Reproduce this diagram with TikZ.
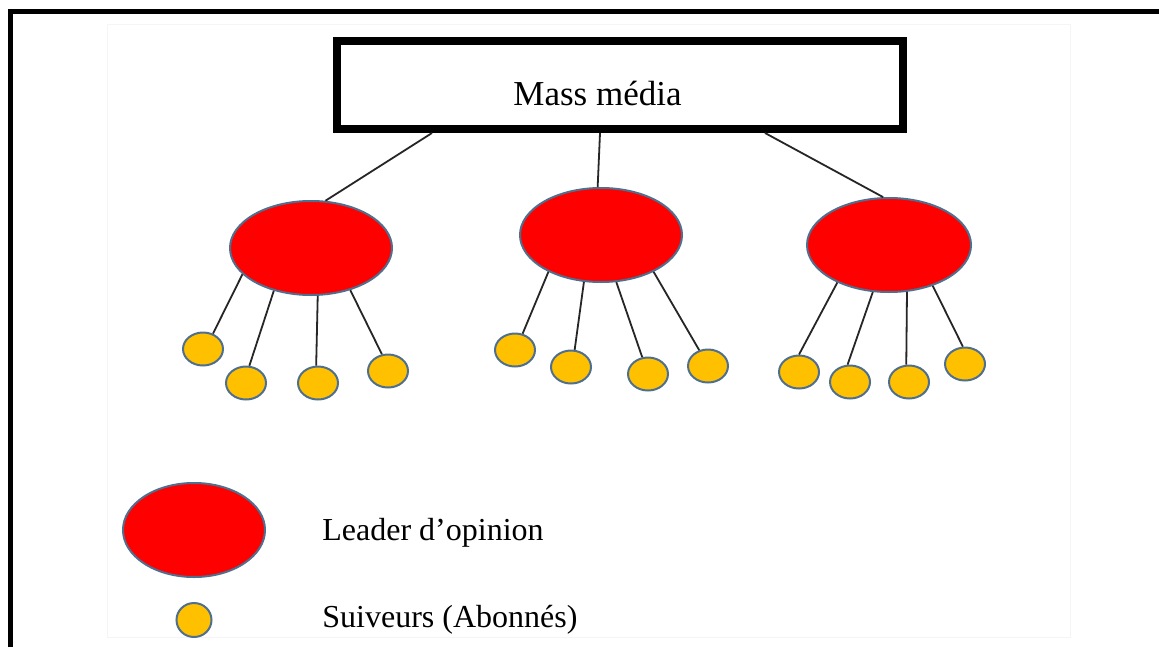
\documentclass[tikz,border=0pt]{standalone}
\usepackage{fontspec}
\setmainfont{Liberation Serif}
\usetikzlibrary{shapes.geometric,calc}
\definecolor{leaderred}{HTML}{FF0000}
\definecolor{followgold}{HTML}{FFC000}
\definecolor{rimblue}{HTML}{4F6F8F}
\definecolor{wire}{HTML}{262626}
\tikzset{
  leader/.style={ellipse, draw=rimblue, line width=1pt, fill=leaderred,
    minimum width=81pt, minimum height=47pt, inner sep=0pt},
  follower/.style={ellipse, draw=rimblue, line width=1pt, fill=followgold,
    minimum width=20pt, minimum height=16.5pt, inner sep=0pt},
  link/.style={draw=wire, line width=0.9pt},
  mediabox/.style={draw=black, line width=4pt, fill=white,
    minimum width=283pt, minimum height=44pt, inner sep=0pt},
  caption/.style={inner sep=0pt, anchor=base west, font=\fontsize{16}{19}\selectfont}
}
\begin{document}
\begin{tikzpicture}[x=0.5pt,y=-0.5pt]
\useasboundingbox (0,0) rectangle (1159,647);
\fill[white] (0,0) rectangle (1159,647);
% faint page edge and heavy frame
\draw[black!4, line width=0.5pt] (107,25) rectangle (1070,637);
\draw[black, line width=2.5pt] (10.5,647) -- (10.5,11.5) -- (1159,11.5);

% mass media box
\node[mediabox] (box) at (620,85) {};
\node[inner sep=0pt, anchor=base, font=\fontsize{17.5}{21}\selectfont] (mm) at (597.5,105) {Mass média};

% opinion leaders
\node[leader] (L) at (311,248) {};
\node[leader] (M) at (601,235) {};
\node[leader, minimum width=82pt] (R) at (889,245) {};

% followers
\node[follower] (l1) at (203,349) {};
\node[follower] (l2) at (246,383) {};
\node[follower] (l3) at (318,383) {};
\node[follower] (l4) at (388,371) {};
\node[follower] (m1) at (515,350) {};
\node[follower] (m2) at (571,367) {};
\node[follower] (m3) at (648,374) {};
\node[follower] (m4) at (708,366) {};
\node[follower] (r1) at (799,372) {};
\node[follower] (r2) at (850,382) {};
\node[follower] (r3) at (909,382) {};
\node[follower] (r4) at (965,364) {};

% media to leaders
\coordinate (bl) at ($(box.south)+(-188,0)$);
\coordinate (bm) at ($(box.south)+(-20,0)$);
\coordinate (br) at ($(box.south)+(145,0)$);
\draw[link] (bl) -- (L.73.7);
\draw[link] (bm) -- (M.94.8);
\draw[link] (br) -- (R.97.1);

% leaders to followers
\draw[link] (L.201.4) -- (l1.57.3);
\draw[link] (L.229.8) -- (l2.79.4);
\draw[link] (L.278.5) -- (l3.96.7);
\draw[link] (L.313.7) -- (l4.110.6);
\draw[link] (M.215.1) -- (m1.65);
\draw[link] (M.250.9) -- (m2.78.7);
\draw[link] (M.288.8) -- (m3.109.4);
\draw[link] (M.325) -- (m4.119.7);
\draw[link] (R.216) -- (r1.90);
\draw[link] (R.251.6) -- (r2.98);
\draw[link] (R.291.8) -- (r3.99.5);
\draw[link] (R.317.7) -- (r4.97);

% legend
\node[leader, minimum width=71pt] (keyL) at (194,530) {};
\node[follower, minimum width=17.5pt, minimum height=17pt] (keyF) at (194,620) {};
\node[caption] (keyLtext) at (322,540) {Leader d’opinion};
\node[caption] (keyFtext) at (322,627) {Suiveurs (Abonnés)};
\end{tikzpicture}
\end{document}
